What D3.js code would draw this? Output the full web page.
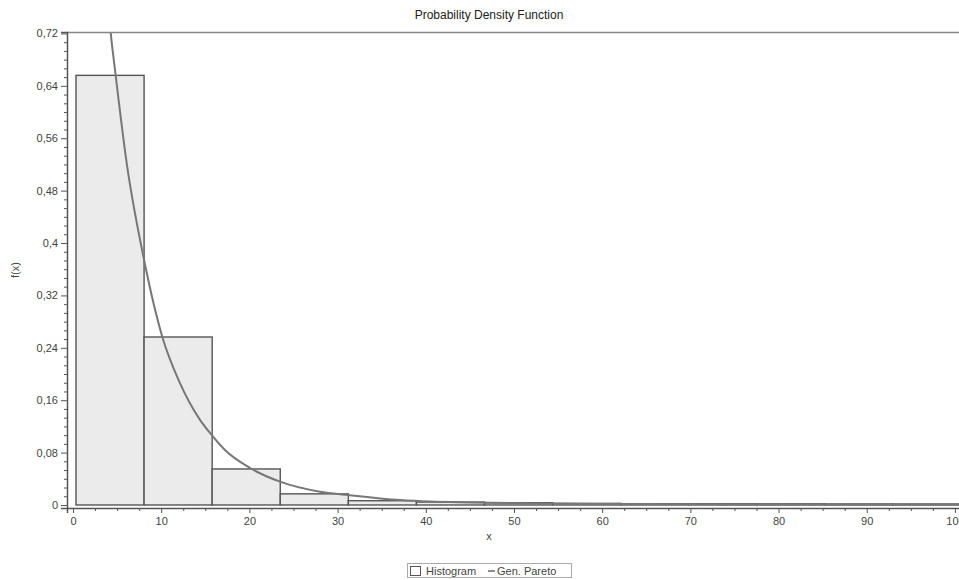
<!DOCTYPE html>
<html>
<head>
<meta charset="utf-8">
<script src="https://cdn.jsdelivr.net/npm/d3@7"></script>
<style>
  html, body { margin: 0; padding: 0; background: #fff; }
  svg { display: block; }
  text { font-family: "Liberation Sans", Arial, sans-serif; fill: #444; }
</style>
</head>
<body>
<svg id="chart" width="959" height="580"></svg>
<script>
// ---- data ----
const binEdges = [0.34, 8.06, 15.78, 23.50, 31.22, 38.94, 46.66, 54.38, 62.10, 69.82, 77.54, 85.26, 92.98, 100.70];
const histHeights = [0.656, 0.2565, 0.055, 0.017, 0.0065, 0.0045, 0.0035, 0.0025, 0.002, 0.002, 0.0018, 0.0016, 0.0015];
const curveX = [3.9, 4.27, 4.84, 6.09, 7.94, 10.12, 12.13, 14.40, 15.53, 17.23, 20.07, 23.47, 28.0, 31.2, 37.1, 40.5, 45.0, 58.6, 75.0, 100.8];
const curveY = [0.78, 0.722, 0.656, 0.522, 0.382, 0.257, 0.186, 0.130, 0.110, 0.084, 0.0565, 0.0356, 0.0203, 0.0153, 0.0076, 0.0052, 0.0038, 0.0016, 0.0011, 0.0008];
const yTicks = [0, 0.08, 0.16, 0.24, 0.32, 0.4, 0.48, 0.56, 0.64, 0.72];
const xTicks = [0, 10, 20, 30, 40, 50, 60, 70, 80, 90, 100];
const title = "Probability Density Function";
const xLabel = "x";
const yLabel = "f(x)";
const legendItems = ["Histogram", "Gen. Pareto"];

// ---- layout ----
const svg = d3.select("#chart");
const L = 67, T = 32, R = 962, B = 508;
const x = d3.scaleLinear().domain([-0.68, 100.8]).range([L, R]);
const y = d3.scaleLinear().domain([-0.0046, 0.7222]).range([B, T]);
const fmt = d => String(+d.toFixed(2)).replace(".", ",");

svg.append("defs").append("clipPath").attr("id", "clip")
  .append("rect").attr("x", L).attr("y", T).attr("width", R - L).attr("height", B - T);

// title
svg.append("text").attr("x", 489).attr("y", 19).attr("text-anchor", "middle")
  .style("font-size", "12px").style("fill", "#222").text(title);

// bars
const bars = histHeights.map((h, i) => ({ x0: binEdges[i], x1: binEdges[i + 1], h }));
const plot = svg.append("g").attr("clip-path", "url(#clip)");
plot.selectAll("rect.bar").data(bars).join("rect").attr("class", "bar")
  .attr("x", d => x(d.x0)).attr("width", d => x(d.x1) - x(d.x0))
  .attr("y", d => y(d.h)).attr("height", d => y(0) - y(d.h))
  .attr("fill", "#ebebeb").attr("stroke", "#555").attr("stroke-width", 1.4);

// curve
const line = d3.line().x(d => x(d[0])).y(d => y(d[1])).curve(d3.curveMonotoneX);
plot.append("path").datum(curveX.map((v, i) => [v, curveY[i]]))
  .attr("d", line).attr("fill", "none").attr("stroke", "#777").attr("stroke-width", 2);

// frame top
svg.append("line").attr("x1", L).attr("x2", R).attr("y1", T + 0.5).attr("y2", T + 0.5)
  .attr("stroke", "#888").attr("stroke-width", 1.5);

// y axis
svg.append("g").attr("transform", `translate(${L},0)`)
  .call(d3.axisLeft(y).tickValues(yTicks).tickFormat(fmt).tickSize(6).tickPadding(3));
const yMinor = [];
for (let i = 0; i < yTicks.length - 1; i++) for (let k = 1; k < 6; k++) yMinor.push(yTicks[i] + (yTicks[i + 1] - yTicks[i]) * k / 6);
svg.append("g").attr("transform", `translate(${L},0)`)
  .call(d3.axisLeft(y).tickValues(yMinor).tickFormat("").tickSize(3))
  .call(g => g.select(".domain").remove());

// x axis
svg.append("g").attr("transform", `translate(0,${B})`)
  .call(d3.axisBottom(x).tickValues(xTicks).tickSize(5).tickPadding(4));
const xMinor = d3.range(0, 101, 2.5).filter(v => v % 10 !== 0);
svg.append("g").attr("transform", `translate(0,${B})`)
  .call(d3.axisBottom(x).tickValues(xMinor).tickFormat("").tickSize(3))
  .call(g => g.select(".domain").remove());

svg.selectAll(".domain").attr("stroke", "#555").attr("stroke-width", 1.5);
svg.selectAll(".tick line").attr("stroke", "#555");
svg.selectAll(".tick text").style("font-size", "11px").style("fill", "#444").style("font-family", "Liberation Sans, Arial, sans-serif");

// axis labels
svg.append("text").attr("x", 489).attr("y", 540).attr("text-anchor", "middle")
  .style("font-size", "11px").text(xLabel);
svg.append("text").attr("transform", "translate(19,270) rotate(-90)").attr("text-anchor", "middle")
  .style("font-size", "11px").text(yLabel);

// legend
const lg = svg.append("g");
lg.append("rect").attr("x", 407.5).attr("y", 563.5).attr("width", 164).attr("height", 14)
  .attr("fill", "#fff").attr("stroke", "#aaa");
lg.append("rect").attr("x", 410.5).attr("y", 566.5).attr("width", 10).attr("height", 9)
  .attr("fill", "#fff").attr("stroke", "#555");
lg.append("text").attr("x", 426).attr("y", 575).style("font-size", "11px").text(legendItems[0]);
lg.append("line").attr("x1", 488).attr("x2", 495).attr("y1", 571).attr("y2", 571)
  .attr("stroke", "#666").attr("stroke-width", 1.5);
lg.append("text").attr("x", 497).attr("y", 575).style("font-size", "11px").text(legendItems[1]);
</script>
</body>
</html>
